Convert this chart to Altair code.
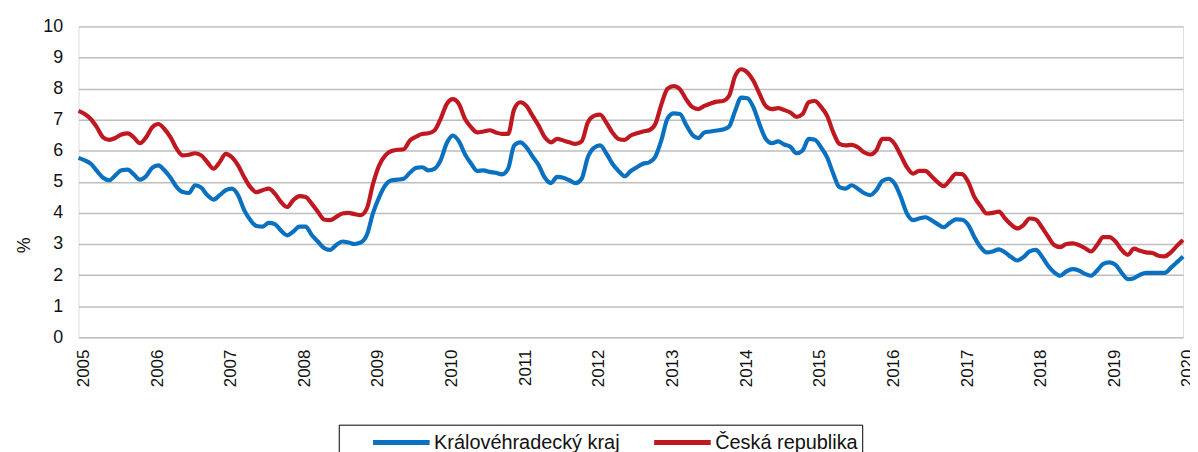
import altair as alt
import pandas as pd

series_names = ["Královéhradecký kraj", "Česká republika"]
series_colors = ["#0A70C0", "#C01820"]

start_year = 2005
year_ticks = list(range(2005, 2021))
y_ticks = list(range(0, 11))

# monthly values Jan 2005 .. Jan 2020
khk = [
    5.77, 5.69, 5.58, 5.35, 5.13, 5.05, 5.21, 5.37, 5.39, 5.24, 5.07, 5.18,
    5.45, 5.53, 5.37, 5.13, 4.83, 4.67, 4.64, 4.89, 4.81, 4.57, 4.43, 4.57,
    4.73, 4.78, 4.57, 4.09, 3.77, 3.58, 3.56, 3.68, 3.64, 3.43, 3.28, 3.40,
    3.56, 3.56, 3.29, 3.08, 2.87, 2.81, 2.97, 3.08, 3.05, 3.00, 3.05, 3.30,
    4.00, 4.51, 4.89, 5.05, 5.07, 5.10, 5.29, 5.45, 5.47, 5.37, 5.42, 5.69,
    6.24, 6.49, 6.30, 5.88, 5.58, 5.35, 5.37, 5.32, 5.29, 5.24, 5.42, 6.17,
    6.27, 6.11, 5.81, 5.53, 5.13, 4.96, 5.16, 5.13, 5.05, 4.96, 5.10, 5.79,
    6.09, 6.17, 5.92, 5.58, 5.35, 5.18, 5.35, 5.47, 5.58, 5.63, 5.81, 6.35,
    7.04, 7.20, 7.18, 6.84, 6.52, 6.41, 6.59, 6.62, 6.65, 6.68, 6.77, 7.28,
    7.71, 7.69, 7.39, 6.84, 6.38, 6.24, 6.30, 6.20, 6.13, 5.92, 6.01, 6.38,
    6.35, 6.11, 5.79, 5.26, 4.83, 4.78, 4.89, 4.78, 4.64, 4.57, 4.73, 5.03,
    5.10, 4.94, 4.51, 3.98, 3.77, 3.82, 3.86, 3.77, 3.64, 3.54, 3.68, 3.79,
    3.78, 3.61, 3.22, 2.90, 2.73, 2.76, 2.83, 2.73, 2.58, 2.47, 2.58, 2.76,
    2.81, 2.60, 2.30, 2.09, 1.98, 2.12, 2.19, 2.15, 2.04, 1.98, 2.15, 2.36,
    2.41, 2.33, 2.07, 1.87, 1.90, 2.01, 2.07, 2.07, 2.07, 2.07, 2.23, 2.41,
    2.60,
]

cr = [
    7.28, 7.18, 7.02, 6.75, 6.43, 6.35, 6.41, 6.52, 6.56, 6.43, 6.24, 6.43,
    6.75, 6.86, 6.70, 6.43, 6.06, 5.85, 5.87, 5.92, 5.85, 5.63, 5.42, 5.63,
    5.90, 5.79, 5.53, 5.15, 4.83, 4.67, 4.73, 4.78, 4.62, 4.35, 4.19, 4.41,
    4.54, 4.51, 4.30, 4.04, 3.79, 3.77, 3.87, 3.98, 4.00, 3.96, 3.93, 4.15,
    4.94, 5.53, 5.85, 5.99, 6.03, 6.05, 6.33, 6.45, 6.54, 6.56, 6.65, 7.02,
    7.50, 7.66, 7.50, 7.02, 6.75, 6.59, 6.62, 6.66, 6.59, 6.54, 6.54, 7.34,
    7.56, 7.44, 7.12, 6.80, 6.43, 6.27, 6.38, 6.33, 6.27, 6.22, 6.30, 6.91,
    7.12, 7.16, 6.91, 6.59, 6.38, 6.35, 6.49, 6.56, 6.62, 6.66, 6.86, 7.50,
    8.00, 8.08, 7.98, 7.66, 7.41, 7.34, 7.44, 7.52, 7.58, 7.60, 7.76, 8.40,
    8.62, 8.52, 8.24, 7.82, 7.44, 7.34, 7.37, 7.31, 7.23, 7.09, 7.18, 7.56,
    7.60, 7.41, 7.12, 6.59, 6.22, 6.17, 6.19, 6.11, 5.95, 5.88, 6.01, 6.38,
    6.38, 6.22, 5.85, 5.47, 5.26, 5.35, 5.35, 5.18, 4.99, 4.86, 5.05, 5.26,
    5.25, 4.99, 4.51, 4.22, 3.98, 4.00, 4.04, 3.82, 3.62, 3.50, 3.61, 3.82,
    3.79, 3.54, 3.24, 2.97, 2.90, 3.00, 3.02, 2.97, 2.87, 2.76, 2.97, 3.22,
    3.22, 3.08, 2.81, 2.65, 2.85, 2.78, 2.73, 2.71, 2.62, 2.60, 2.73, 2.94,
    3.13,
]

rows = []
for name, vals in zip(series_names, [khk, cr]):
    for i, v in enumerate(vals):
        rows.append({"t": start_year + i / 12.0, "v": v, "s": name})
df = pd.DataFrame(rows)

FONT = "Liberation Sans"

chart = (
    alt.Chart(df)
    .mark_line(strokeWidth=4.2, interpolate="monotone")
    .encode(
        x=alt.X(
            "t:Q",
            scale=alt.Scale(domain=[2005, 2020], nice=False, zero=False),
            axis=alt.Axis(
                values=year_ticks,
                format="d",
                labelAngle=270,
                labelFontSize=17,
                labelFont=FONT,
                labelColor="#111111",
                labelPadding=12,
                labelOffset=5,
                labelFlush=False,
                labelOverlap=False,
                ticks=False,
                domain=False,
                grid=False,
                title=None,
            ),
        ),
        y=alt.Y(
            "v:Q",
            scale=alt.Scale(domain=[0, 10], nice=False),
            axis=alt.Axis(
                values=y_ticks,
                labelFontSize=18,
                labelFont=FONT,
                labelColor="#111111",
                labelPadding=16,
                ticks=False,
                domain=False,
                grid=True,
                gridColor="#BEBEBE",
                gridWidth=1.5,
                title="%",
                titleFont=FONT,
                titleFontSize=18,
                titleFontWeight="normal",
                titleColor="#111111",
                titleX=-45,
                titleY=220,
            ),
        ),
        color=alt.Color(
            "s:N",
            scale=alt.Scale(domain=series_names, range=series_colors),
            legend=alt.Legend(
                orient="none",
                legendX=262,
                legendY=401,
                direction="horizontal",
                title=None,
                symbolType="M-2.5,0L2.5,0",
                symbolStrokeWidth=5,
                symbolSize=520,
                symbolOffset=45,
                labelFontSize=20,
                labelFont=FONT,
                labelColor="#111111",
                labelOffset=19,
                labelLimit=400,
                labelExpr="datum.label == 'Česká republika' ? datum.label + '\u00a0\u00a0\u00a0\u00a0' : datum.label",
                columnPadding=4,
                padding=4,
                strokeColor="black",
                fillColor="white",
            ),
        ),
    )
    .properties(
        width=1112,
        height=313,
        autosize=alt.AutoSizeParams(type="none"),
        padding={"left": 71, "top": 17, "right": 7, "bottom": 114},
    )
    .configure_view(stroke="black", strokeWidth=1.5)
    .configure(background="white")
)

chart.save("out.html", embed_options={"renderer": "svg", "actions": False})
